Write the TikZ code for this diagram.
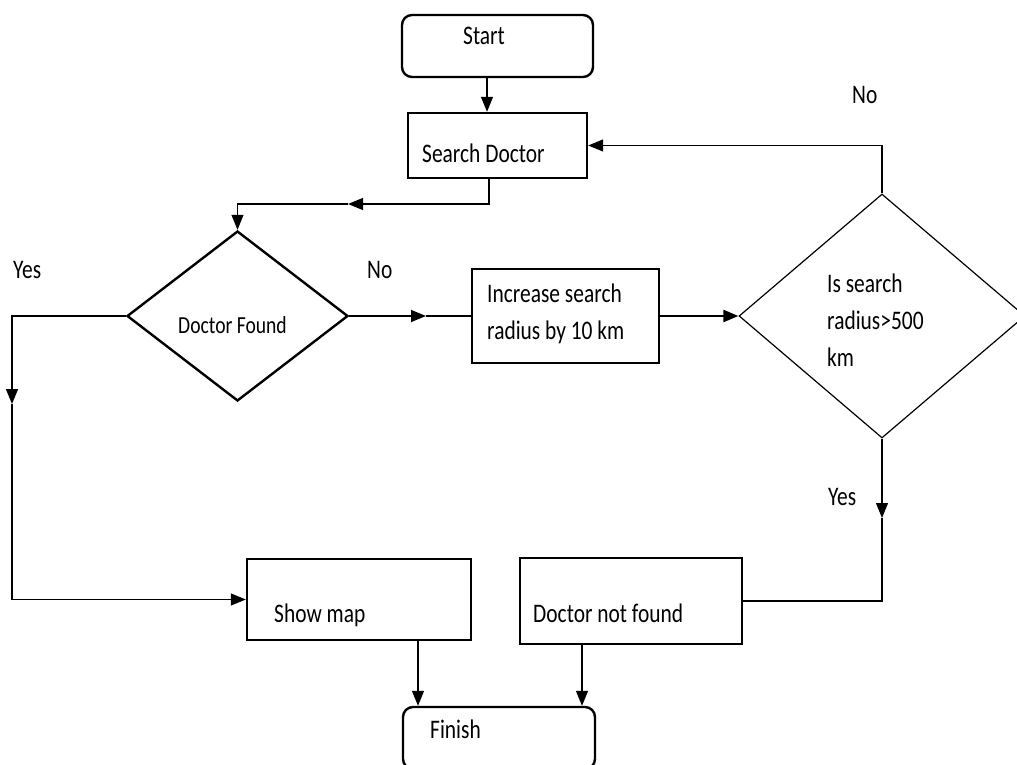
\documentclass[tikz,border=0pt]{standalone}
\usepackage{fontspec}
\setmainfont{Carlito}[FakeStretch=0.8]
\usetikzlibrary{shapes.geometric,arrows.meta}

\begin{document}
\begin{tikzpicture}[x=1pt,y=-1pt,
    box/.style={draw, line width=2.4pt, inner sep=0pt},
    txt/.style={anchor=base west, inner sep=0pt, align=left,
      font=\fontsize{26.8}{37}\selectfont},
    line/.style={line width=1.2pt},
    tip/.style={-{Triangle[length=15pt,width=12pt]}}]
  \clip (0,0) rectangle (1017,765);

  % Kaesten
  \node[box, rounded corners=10pt, minimum width=191pt, minimum height=62pt] (start) at (497.5,46) {};
  \node[box, minimum width=179pt, minimum height=65pt] (sd) at (497.5,145.5) {};
  \node[box, diamond, minimum width=221pt, minimum height=170pt] (df) at (237.5,316) {};
  \node[box, line width=1.6pt, minimum width=187pt, minimum height=94pt] (inc) at (565.5,316) {};
  \node[box, diamond, line width=1.2pt, minimum width=286pt, minimum height=244pt] (rad) at (882,316) {};
  \node[box, minimum width=224pt, minimum height=81pt] (map) at (359,599.5) {};
  \node[box, minimum width=222pt, minimum height=86pt] (nf) at (631,601) {};
  \node[box, rounded corners=10pt, minimum width=192pt, minimum height=62pt] (fin) at (499,738) {};

  % Texte
  \node[txt] (startT) at (463,45) {Start};
  \node[txt] (sdT) at (422,162) {Search Doctor};
  \node[txt, font=\fontsize{24.5}{30}\selectfont] (dfT) at (178,333) {Doctor Found};
  \node[txt] (incT) at (487,339) {Increase search\\radius by 10 km};
  \node[txt] (radT) at (827,366) {Is search\\radius>500\\km};
  \node[txt] (mapT) at (274,622) {Show map};
  \node[txt] (nfT) at (533,622) {Doctor not found};
  \node[txt] (finT) at (430,738) {Finish};
  \node[txt] (yesL) at (13,278) {Yes};
  \node[txt] (noL) at (367,278) {No};
  \node[txt] (noR) at (852,104) {No};
  \node[txt] (yesR) at (828,505) {Yes};

  % Pfeile
  \draw[line, tip] ([xshift=-10.5pt]start.south) -- ([xshift=-10.5pt]sd.north);

  \coordinate (m1) at (348,204);
  \draw[line, tip] ([xshift=-8.5pt]sd.south) |- (m1);
  \draw[line, tip] (m1) -| (df.north);

  \coordinate (yesA) at (12,404);
  \draw[line, tip] (df.west) -| (yesA);
  \draw[line, tip] (yesA) |- (map.west);

  \coordinate (m2) at (426,316);
  \draw[line, tip] (df.east) -- (m2);
  \draw[line] (m2) -- (inc.west);

  \draw[line width=2.4pt, tip] (inc.east) -- (rad.west);

  \draw[line, tip] (rad.north) |- (sd.east);

  \coordinate (yesB) at (882,518);
  \draw[line, tip] (rad.south) -- (yesB);
  \draw[line] (yesB) |- (nf.east);

  \coordinate (a1) at ([xshift=59pt]map.south);
  \draw[line, tip] (a1) -- (a1 |- fin.north);
  \coordinate (a2) at ([xshift=-49pt]nf.south);
  \draw[line, tip] (a2) -- (a2 |- fin.north);

\end{tikzpicture}
\end{document}
